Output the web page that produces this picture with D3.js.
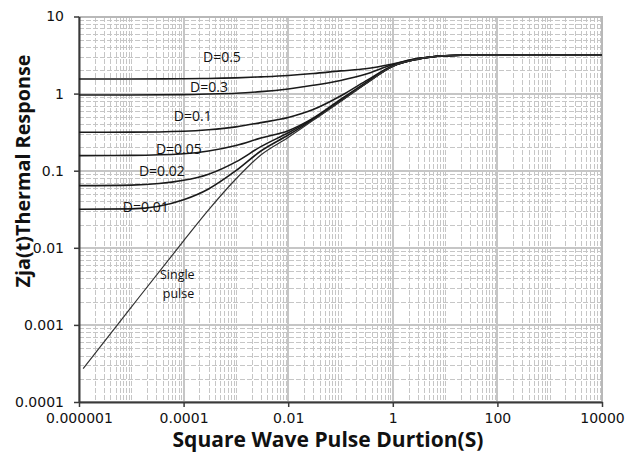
<!DOCTYPE html>
<html>
<head>
<meta charset="utf-8">
<script src="https://cdn.jsdelivr.net/npm/d3@7/dist/d3.min.js"></script>
<style>
  html, body { margin: 0; padding: 0; background: #fff; }
  svg { display: block; }
</style>
</head>
<body>
<svg id="chart" width="638" height="453"></svg>
<script>
// ---------- data ----------
const xTickValues = [1e-6, 1e-4, 1e-2, 1, 100, 1e4];
const xTickLabels = ["0.000001", "0.0001", "0.01", "1", "100", "10000"];
const yTickValues = [1e-4, 1e-3, 1e-2, 0.1, 1, 10];
const yTickLabels = ["0.0001", "0.001", "0.01", "0.1", "1", "10"];

const pulseTimes = [1e-6, 1e-5, 1e-4, 3e-4, 1e-3, 3e-3, 0.01, 0.03, 0.1, 0.3, 1, 3, 10, 20, 100, 1e4];
const dutyD050 = [1.55, 1.55, 1.56, 1.57, 1.60, 1.65, 1.72, 1.82, 1.97, 2.10, 2.42, 2.86, 3.1, 3.15, 3.15, 3.15];
const dutyD030 = [0.96, 0.96, 0.97, 0.99, 1.01, 1.06, 1.15, 1.28, 1.48, 1.78, 2.38, 2.84, 3.1, 3.15, 3.15, 3.15];
const dutyD010 = [0.315, 0.316, 0.325, 0.34, 0.37, 0.42, 0.49, 0.62, 0.93, 1.45, 2.30, 2.82, 3.1, 3.15, 3.15, 3.15];
const dutyD005 = [0.157, 0.158, 0.166, 0.18, 0.212, 0.265, 0.33, 0.48, 0.84, 1.38, 2.28, 2.80, 3.1, 3.15, 3.15, 3.15];
const dutyD002 = [0.064, 0.065, 0.075, 0.09, 0.13, 0.205, 0.31, 0.47, 0.81, 1.35, 2.27, 2.80, 3.1, 3.15, 3.15, 3.15];
const dutyD001 = [0.0316, 0.032, 0.042, 0.058, 0.10, 0.18, 0.29, 0.46, 0.80, 1.34, 2.27, 2.80, 3.1, 3.15, 3.15, 3.15];

const singleTimes = [1.2e-6, 1e-5, 1e-4, 3e-4, 1e-3, 3e-3, 0.01, 0.03, 0.1, 0.3, 1, 3, 10, 20, 100, 1e4];
const singlePulse = [2.7e-4, 1.7e-3, 0.0123, 0.031, 0.078, 0.16, 0.27, 0.45, 0.79, 1.33, 2.26, 2.8, 3.1, 3.15, 3.15, 3.15];

const seriesNames = ["D=0.5", "D=0.3", "D=0.1", "D=0.05", "D=0.02", "D=0.01", "Single pulse"];
const seriesValues = [dutyD050, dutyD030, dutyD010, dutyD005, dutyD002, dutyD001, singlePulse];
const seriesTimes = [pulseTimes, pulseTimes, pulseTimes, pulseTimes, pulseTimes, pulseTimes, singleTimes];

// label anchors in data coordinates (left edge, vertical centre)
const labelTexts = ["D=0.5", "D=0.3", "D=0.1", "D=0.05", "D=0.02", "D=0.01", "Single", "pulse"];
const labelT = [2.35e-4, 1.33e-4, 6.5e-5, 2.96e-5, 1.4e-5, 6.9e-6, 3.54e-5, 4.0e-5];
const labelZ = [2.98, 1.22, 0.513, 0.191, 0.099, 0.0338, 0.00444, 0.00252];

const xTitle = "Square Wave Pulse Durtion(S)";
const yTitle = "Zja(t)Thermal Response";

// ---------- chart ----------
const svg = d3.select("#chart");
const L = 79, R = 602, T = 16.5, B = 402;

const x = d3.scaleLog().domain([1e-6, 1e4]).range([L, R]);
const y = d3.scaleLog().domain([1e-4, 10]).range([B, T]);
const snap = v => Math.round(v) + 0.5;

const gridColor = "#c6c6c6";
const grid = svg.append("g").attr("shape-rendering", "crispEdges");

// vertical grid
const xMinor = [];
for (let e = -6; e < 4; e++) for (let k = 1; k <= 9; k++) xMinor.push(k * Math.pow(10, e));
const isXMajor = v => xTickValues.some(t => Math.abs(Math.log10(v) - Math.log10(t)) < 1e-9);
grid.selectAll("line.vminor").data(xMinor.filter(v => !isXMajor(v))).enter().append("line")
  .attr("class", "vminor")
  .attr("x1", d => snap(x(d))).attr("x2", d => snap(x(d))).attr("y1", T).attr("y2", B)
  .attr("stroke", gridColor).attr("stroke-width", 1).attr("stroke-dasharray", "5,2");
// horizontal grid
const yMinor = [];
for (let e = -4; e < 1; e++) for (let k = 2; k <= 9; k++) yMinor.push(k * Math.pow(10, e));
grid.selectAll("line.hminor").data(yMinor).enter().append("line")
  .attr("class", "hminor")
  .attr("y1", d => snap(y(d))).attr("y2", d => snap(y(d))).attr("x1", L).attr("x2", R)
  .attr("stroke", gridColor).attr("stroke-width", 1).attr("stroke-dasharray", "5,2");
grid.selectAll("line.vmajor").data(xTickValues).enter().append("line")
  .attr("class", "vmajor")
  .attr("x1", d => Math.round(x(d))).attr("x2", d => Math.round(x(d))).attr("y1", T).attr("y2", B)
  .attr("stroke", gridColor).attr("stroke-width", 2);
grid.selectAll("line.hmajor").data(yTickValues).enter().append("line")
  .attr("class", "hmajor")
  .attr("y1", d => Math.round(y(d))).attr("y2", d => Math.round(y(d))).attr("x1", L).attr("x2", R)
  .attr("stroke", gridColor).attr("stroke-width", 2);
// plot border (top/right)
svg.append("rect").attr("x", L).attr("y", Math.round(T)).attr("width", R - L).attr("height", B - Math.round(T))
  .attr("fill", "none").attr("stroke", "#b8b8b8").attr("stroke-width", 2);

// axes
const tickFont = "'DejaVu Sans', sans-serif";
const xAxis = d3.axisBottom(x).tickValues(xTickValues).tickFormat((d, i) => xTickLabels[i]).tickSize(5).tickSizeOuter(0);
const gx = svg.append("g").attr("transform", `translate(0,${B})`).call(xAxis);
const yAxis = d3.axisLeft(y).tickValues(yTickValues).tickFormat((d, i) => yTickLabels[i]).tickSize(5).tickSizeOuter(0);
const gy = svg.append("g").attr("transform", `translate(${L},0)`).call(yAxis);
[gx, gy].forEach(g => {
  g.select(".domain").attr("stroke", "#3a3a3a").attr("stroke-width", 2);
  g.selectAll(".tick line").attr("stroke", "#3a3a3a").attr("stroke-width", 1.5);
  g.selectAll(".tick text").attr("fill", "#111").style("font-family", tickFont).style("font-size", "14px");
});
gx.selectAll(".tick text").attr("dy", null).attr("y", 21);
gy.selectAll(".tick text").attr("x", -15);

// curves
const line = d3.line().x(d => x(d[0])).y(d => y(d[1])).curve(d3.curveMonotoneX);
seriesNames.forEach((name, i) => {
  const pts = seriesTimes[i].map((t, j) => [t, seriesValues[i][j]]);
  svg.append("path").datum(pts).attr("d", line)
    .attr("fill", "none")
    .attr("stroke", i === 6 ? "#333" : "#1a1a1a")
    .attr("stroke-width", i === 6 ? 1.2 : 1.6);
});

// curve labels
const labelFont = "'Open Sans', 'Noto Sans', sans-serif";
svg.selectAll("text.lbl").data(labelTexts).enter().append("text")
  .attr("class", "lbl")
  .attr("x", (d, i) => x(labelT[i])).attr("y", (d, i) => y(labelZ[i]))
  .attr("dy", "0.35em")
  .style("font-family", labelFont)
  .style("font-size", (d, i) => i >= 6 ? "12.5px" : "14px")
  .attr("fill", "#111")
  .text(d => d);

// axis titles
function fitText(sel, target, base) {
  const len = sel.node().getComputedTextLength();
  sel.style("font-size", (base * target / len).toFixed(2) + "px");
}
const titleFont = "'Open Sans', 'Noto Sans', sans-serif";
const xt = svg.append("text").attr("x", 328).attr("y", 447).attr("text-anchor", "middle")
  .style("font-family", titleFont).style("font-weight", "bold").style("font-size", "17px")
  .attr("fill", "#111").text(xTitle);
fitText(xt, 311, 17);
const yt = svg.append("text").attr("transform", "translate(30,171) rotate(-90)").attr("text-anchor", "middle")
  .style("font-family", titleFont).style("font-weight", "bold").style("font-size", "17px")
  .attr("fill", "#111").text(yTitle);
fitText(yt, 233, 17);
</script>
</body>
</html>
